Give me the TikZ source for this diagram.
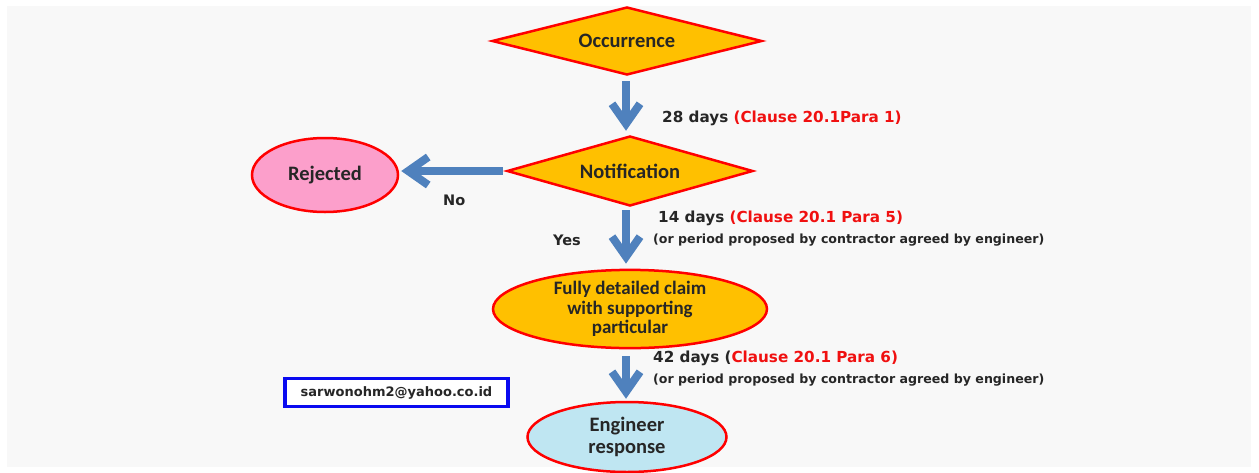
\documentclass[tikz,border=0pt]{standalone}
\usepackage{fontspec}
\setmainfont{Carlito}
\newfontfamily\lblfont{DejaVu Sans}
\usetikzlibrary{shapes.geometric,arrows.meta}
\definecolor{bg}{HTML}{F8F8F8}
\definecolor{gold}{HTML}{FFC000}
\definecolor{pinkfill}{HTML}{FC9FCB}
\definecolor{bluefill}{HTML}{BFE6F2}
\definecolor{arrowblue}{HTML}{4F81BD}
\definecolor{txt}{HTML}{262626}
\definecolor{redtxt}{HTML}{F01010}
\definecolor{boxblue}{HTML}{0A0AF0}
\begin{document}
\begin{tikzpicture}[x=1pt,y=-1pt,
  nodefont/.style={font=\bfseries\fontsize{20.5}{22}\selectfont, text=txt},
  diam/.style={diamond, draw=red, line width=2.5pt, fill=gold, inner sep=0pt, aspect=4, nodefont},
  ell/.style={ellipse, draw=red, line width=2.5pt, inner sep=0pt, align=center, nodefont},
  flow/.style={draw=arrowblue, line width=8pt, -{Straight Barb[length=20pt,width=28pt]}},
  lbl/.style={anchor=west, inner sep=0pt, text=txt, font=\lblfont\bfseries\fontsize{15.2}{18}\selectfont},
  small/.style={anchor=west, inner sep=0pt, text=txt, font=\lblfont\bfseries\fontsize{12.6}{15}\selectfont},
  yesno/.style={anchor=west, inner sep=0pt, text=txt, font=\lblfont\bfseries\fontsize{14.5}{16}\selectfont}
]
\useasboundingbox (0,0) rectangle (1259,472);
\fill[white] (0,0) rectangle (1259,472);
\fill[bg] (7,6) rectangle (1251,467);

\node[diam, minimum width=270pt, minimum height=68pt] (occ) at (627,41) {Occurrence};
\node[diam, minimum width=246pt, minimum height=70pt] (notif) at (630,171) {Notification};
\node[ell, fill=pinkfill, minimum width=146pt, minimum height=74pt] (rej) at (325,175) {Rejected};
\node[ell, fill=gold, minimum width=274pt, minimum height=68pt, font=\bfseries\fontsize{19}{19.5}\selectfont] (claim) at (630,309) {Fully detailed claim\\with supporting\\particular};
\node[ell, fill=bluefill, minimum width=199pt, minimum height=70pt] (eng) at (627,437) {Engineer\\response};
\node[draw=boxblue, line width=3.5pt, fill=white, minimum width=223pt, minimum height=28pt, inner sep=0pt, text=txt, font=\lblfont\bfseries\fontsize{13}{16}\selectfont] (mail) at (396.5,392.5) {sarwonohm2@yahoo.co.id};

\draw[flow] ([yshift=-5pt]occ.south -| 626,0) -- ([yshift=4pt]notif.north -| 626,0);
\draw[flow] ([xshift=-3pt]notif.west) -- ([xshift=2pt]rej.east |- notif.west);
\draw[flow] ([yshift=-3pt]notif.south -| 626,0) -- ([yshift=5pt]claim.north -| 626,0);
\draw[flow] ([yshift=-7pt]claim.south -| 626,0) -- ([yshift=2pt]eng.north -| 626,0);

\node[lbl] (l28) at (662,118) {28 days \textcolor{redtxt}{(Clause 20.1Para 1)}};
\node[yesno] (no) at (443,200) {No};
\node[yesno] (yes) at (553,240) {Yes};
\node[lbl] (l14) at (658,218) {14 days \textcolor{redtxt}{(Clause 20.1 Para 5)}};
\node[small] (p14) at (653,240) {(or period proposed by contractor agreed by engineer)};
\node[lbl] (l42) at (653,358) {42 days (\textcolor{redtxt}{Clause 20.1 Para 6)}};
\node[small] (p42) at (653,380) {(or period proposed by contractor agreed by engineer)};
\end{tikzpicture}
\end{document}
